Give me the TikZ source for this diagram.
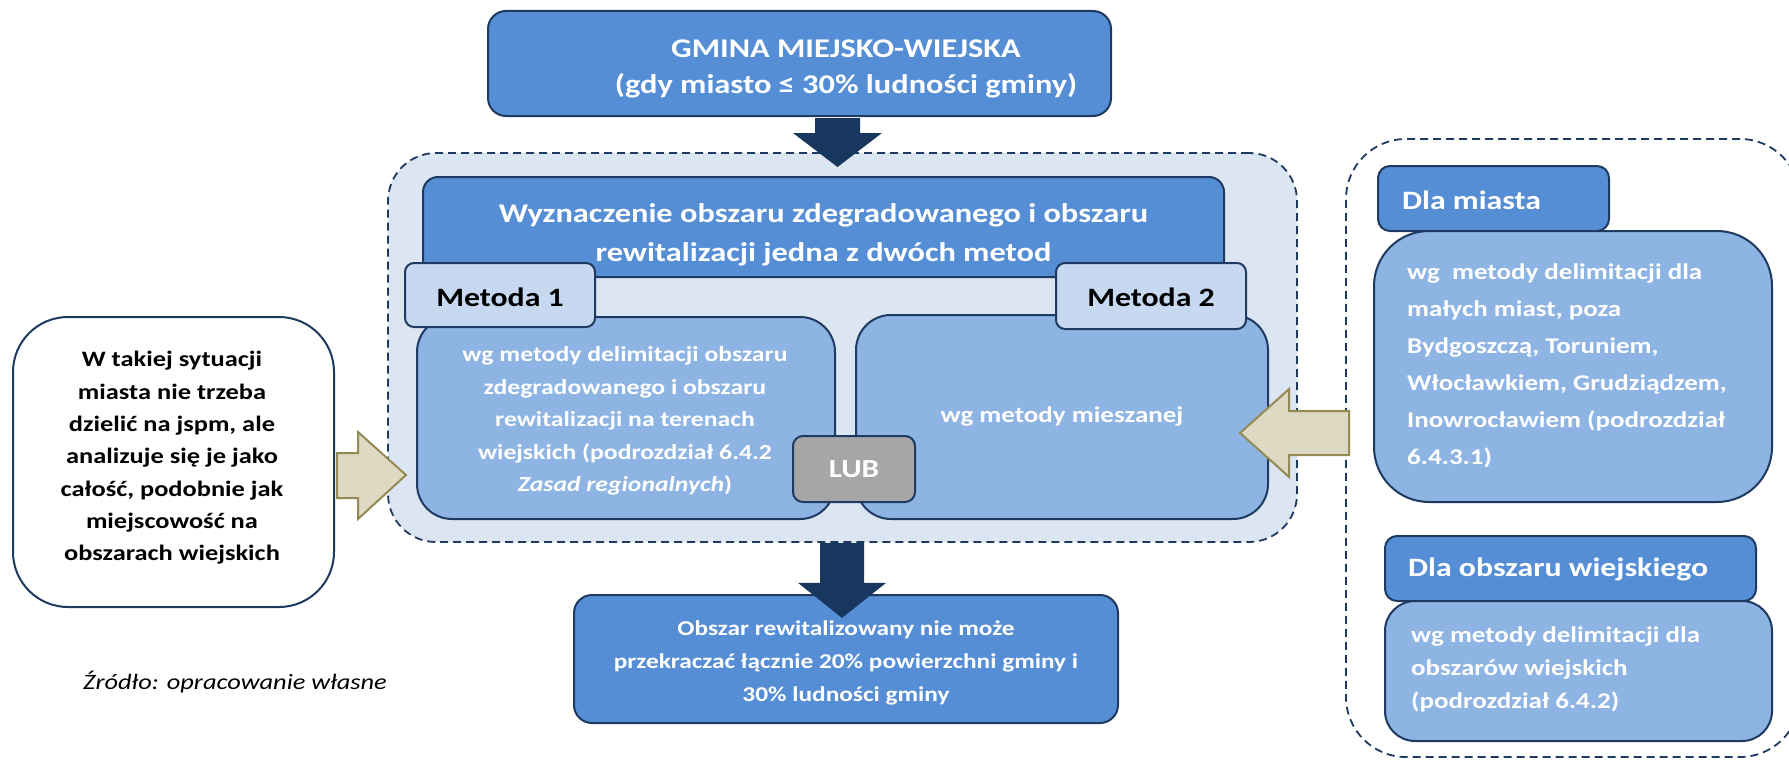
\documentclass[tikz,border=0pt]{standalone}
\usepackage{fontspec}
\setmainfont{Carlito}[FakeStretch=1.2]
\usetikzlibrary{calc}
\definecolor{blueA}{HTML}{558ED5}
\definecolor{blueB}{HTML}{8EB4E3}
\definecolor{tabC}{HTML}{C6D9F1}
\definecolor{contC}{HTML}{DCE6F2}
\definecolor{navy}{HTML}{1F3A60}
\definecolor{darkA}{HTML}{17375E}
\definecolor{beigeF}{HTML}{DDD9C3}
\definecolor{beigeD}{HTML}{948A54}
\definecolor{grayL}{HTML}{A6A6A6}
\tikzset{
  bx/.style={rectangle, draw=navy, line width=2, inner sep=0},
  dashbox/.style={rectangle, draw=navy, line width=1.8, dash pattern=on 8 off 5, inner sep=0},
  wtxt/.style={text=white, font=\fontsize{22.5}{33}\selectfont\bfseries, align=center, inner sep=0},
  darrow/.style={fill=darkA},
  barrow/.style={fill=beigeF, draw=beigeD, line width=2, line join=miter},
}
\begin{document}
\begin{tikzpicture}[x=1pt,y=-1pt]
\useasboundingbox (0,0) rectangle (1789,760);
\begin{scope}
\clip (0,0) rectangle (1789,760);
% right dashed container
\node[dashbox, rounded corners=60, minimum width=454, minimum height=618] (rcont) at (1573,448) {};
\end{scope}
% top box
\node[bx, fill=blueA, rounded corners=18, minimum width=623, minimum height=105] (gmina) at (799.5,63.5) {};
\node[wtxt, font=\fontsize{27}{36}\selectfont\bfseries] (gminaT) at (846,69) {GMINA MIEJSKO-WIEJSKA\\(gdy miasto ≤ 30\% ludności gminy)};
% main container
\node[dashbox, fill=contC, rounded corners=48, minimum width=909, minimum height=389] (cont) at (842.5,347.5) {};
% Wyznaczenie box
\node[bx, fill=blueA, rounded corners=15, minimum width=801, minimum height=100] (wyz) at (823.5,227) {};
\node[wtxt, font=\fontsize{27}{39}\selectfont\bfseries] (wyzT) at (823.5,235) {Wyznaczenie obszaru zdegradowanego i obszaru\\rewitalizacji jedna z dwóch metod};
% Metoda 1 content
\node[bx, fill=blueB, rounded corners=35, minimum width=418, minimum height=202] (m1) at (626,418) {};
\node[wtxt, font=\fontsize{21.4}{32.5}\selectfont\bfseries] (m1T) at (625,421) {wg metody delimitacji obszaru\\zdegradowanego i obszaru\\rewitalizacji na terenach\\wiejskich (podrozdział 6.4.2\\\textit{Zasad regionalnych})};
% Metoda 2 content
\node[bx, fill=blueB, rounded corners=35, minimum width=412, minimum height=204] (m2) at (1062,417) {};
\node[wtxt] (m2T) at (1062,417) {wg metody mieszanej};
% tabs
\node[bx, fill=tabC, rounded corners=9, minimum width=190, minimum height=64] (t1) at (500,295) {};
\node[font=\fontsize{26.5}{32}\selectfont\bfseries, inner sep=0] (t1T) at (500,297) {Metoda 1};
\node[bx, fill=tabC, rounded corners=9, minimum width=190, minimum height=66] (t2) at (1151,296) {};
\node[font=\fontsize{26.5}{32}\selectfont\bfseries, inner sep=0] (t2T) at (1151,297) {Metoda 2};
% LUB
\node[bx, fill=grayL, rounded corners=10, minimum width=122, minimum height=66] (lub) at (854,469) {};
\node[text=white, font=\fontsize{26}{32}\selectfont\bfseries, inner sep=0] (lubT) at (854,469) {LUB};
% left box
\node[bx, fill=white, rounded corners=55, minimum width=321, minimum height=290] (lbox) at (173.5,462) {};
\node[font=\fontsize{22}{32.3}\selectfont\bfseries, align=center, inner sep=0] (lboxT) at (172,458) {W takiej sytuacji\\miasta nie trzeba\\dzielić na jspm, ale\\analizuje się je jako\\całość, podobnie jak\\miejscowość na\\obszarach wiejskich};
% bottom box
\node[bx, fill=blueA, rounded corners=18, minimum width=544, minimum height=128] (bot) at (846,659) {};
\node[wtxt, font=\fontsize{21.1}{33}\selectfont\bfseries] (botT) at (846,663) {Obszar rewitalizowany nie może\\przekraczać łącznie 20\% powierzchni gminy i\\30\% ludności gminy};
% source
\node[anchor=west, font=\fontsize{22}{26}\selectfont\itshape, inner sep=0] (src) at (83,682) {Źródło: opracowanie własne};
% right: Dla miasta
\node[bx, fill=blueA, rounded corners=12, minimum width=231, minimum height=65] (dm) at (1493.5,198.5) {};
\node[anchor=west, text=white, font=\fontsize{26.5}{32}\selectfont\bfseries, inner sep=0] (dmT) at (1402,200) {Dla miasta};
\node[bx, fill=blueB, rounded corners=55, minimum width=398, minimum height=271] (dmb) at (1573,366.5) {};
\node[anchor=west, wtxt, align=left, font=\fontsize{22.5}{37}\selectfont\bfseries] (dmbT) at (1407,366) {wg\ \ metody delimitacji dla\\małych miast, poza\\Bydgoszczą, Toruniem,\\Włocławkiem, Grudziądzem,\\Inowrocławiem (podrozdział\\6.4.3.1)};
% right: Dla obszaru wiejskiego
\node[bx, fill=blueA, rounded corners=12, minimum width=371, minimum height=65] (dw) at (1570.5,568.5) {};
\node[anchor=west, text=white, font=\fontsize{26.5}{32}\selectfont\bfseries, inner sep=0] (dwT) at (1408,569) {Dla obszaru wiejskiego};
\node[bx, fill=blueB, rounded corners=30, minimum width=387, minimum height=140] (dwb) at (1578.5,671) {};
\node[anchor=west, wtxt, align=left] (dwbT) at (1411,669) {wg metody delimitacji dla\\obszarów wiejskich\\(podrozdział 6.4.2)};
% fat arrows
\coordinate (a1) at ($(gmina.south)+(38,1)$);
\fill[darrow] (a1) ++(-22.5,0) -- ++(45,0) -- ++(0,15) -- ++(22,0) -- ++(-44.5,34) -- ++(-44.5,-34) -- ++(22,0) -- cycle;
\coordinate (a2) at ($(cont.south)+(-0.5,0)$);
\fill[darrow] (a2) ++(-22,0) -- ++(44,0) -- ++(0,40) -- ++(22,0) -- ++(-44,35) -- ++(-44,-35) -- ++(22,0) -- cycle;
% beige arrows
\coordinate (la) at ($(lbox.east)+(2,13)$);
\filldraw[barrow] (la) ++(0,-22) -- ++(21,0) -- ++(0,-21) -- ++(48,43) -- ++(-48,44) -- ++(0,-21) -- ++(-21,0) -- cycle;
\coordinate (ra) at ($(rcont.west)+(4,-15)$);
\filldraw[barrow] (ra) ++(0,-22) -- ++(-60,0) -- ++(0,-22) -- ++(-49,44) -- ++(49,44) -- ++(0,-22) -- ++(60,0) -- cycle;
\end{tikzpicture}
\end{document}
